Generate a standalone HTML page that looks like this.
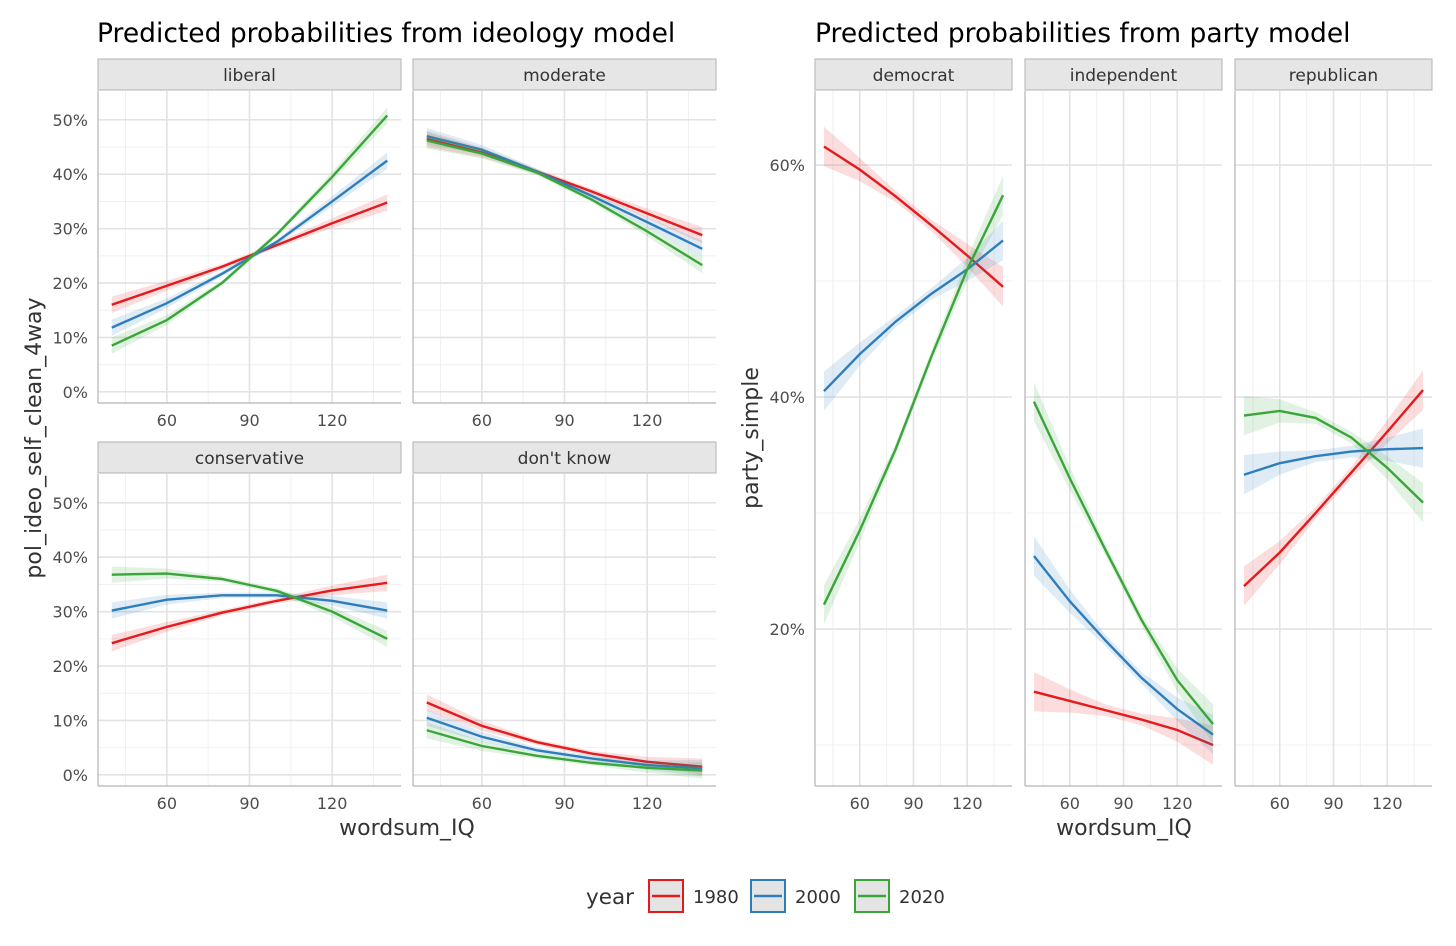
<!DOCTYPE html>
<html><head><meta charset="utf-8"><style>
html,body{margin:0;padding:0;background:#fff;}
svg{display:block;font-family:"DejaVu Sans","Liberation Sans",sans-serif;}
</style></head><body>
<svg id="chart" width="1456" height="946" xmlns="http://www.w3.org/2000/svg"></svg>
<script>
// ---------- data ----------
const xVals = [40,60,80,100,120,140];
const years = ["1980","2000","2020"];
const xTickLabels = [60,90,120];
const leftYTicks = [0,10,20,30,40,50];
const rightYTicks = [20,40,60];
// ideology model (%)
const liberal1980 = [16,19.5,23,27,31,34.8];
const liberal2000 = [11.8,16.3,21.7,27.6,35,42.5];
const liberal2020 = [8.5,13.2,20,29,39.5,50.8];
const moderate1980 = [46.5,44,40.5,36.8,32.8,28.8];
const moderate2000 = [47,44.5,40.5,36,31.2,26.3];
const moderate2020 = [46.2,43.8,40.3,35.3,29.5,23.3];
const conservative1980 = [24.2,27.2,29.8,32,33.9,35.3];
const conservative2000 = [30.2,32.2,33,33,32,30.2];
const conservative2020 = [36.8,37,36,33.8,30,25];
const dontknow1980 = [13.3,9,6,3.9,2.4,1.5];
const dontknow2000 = [10.5,7,4.5,3,1.8,1.2];
const dontknow2020 = [8.2,5.3,3.5,2.2,1.3,0.8];
// party model (%)
const democrat1980 = [61.6,59.6,57.3,54.8,52.2,49.5];
const democrat2000 = [40.5,43.7,46.5,48.9,51,53.5];
const democrat2020 = [22.1,28.5,35.5,43.5,51,57.4];
const independent1980 = [14.6,13.8,13,12.2,11.3,10];
const independent2000 = [26.3,22.4,19,15.8,13.1,10.9];
const independent2020 = [39.6,33,26.8,20.8,15.6,11.8];
const republican1980 = [23.7,26.6,30,33.5,37,40.6];
const republican2000 = [33.3,34.3,34.9,35.3,35.5,35.6];
const republican2020 = [38.4,38.8,38.2,36.5,33.9,30.9];
// ribbon half-widths (%)
const ribbonIdeo = [1.5,0.9,0.5,0.5,0.9,1.5];
const ribbonParty = [1.7,1.0,0.5,0.5,1.0,1.7];

const colors = ["#e41a1c","#2f7ebc","#3aa63a"];
const svg = document.getElementById('chart');
const NS = "http://www.w3.org/2000/svg";
function mk(tag, attrs, parent){
  const e = document.createElementNS(NS, tag);
  for (const k in attrs) e.setAttribute(k, attrs[k]);
  (parent||svg).appendChild(e); return e;
}
function txt(s, attrs, parent){ const t = mk('text', attrs, parent); t.textContent = s; return t; }

function panel(o){
  const g = mk('g', {});
  
  
  const sx = v => o.x0 + (v - 35) / 110 * (o.x1 - o.x0);
  const sy = v => o.y1 - (v - o.ymin) / (o.ymax - o.ymin) * (o.y1 - o.y0);
  [45,75,105,135].forEach(v => mk('line',{x1:sx(v),x2:sx(v),y1:o.y0,y2:o.y1,stroke:'#f0f0f0','stroke-width':1},g));
  o.yMinor.forEach(v => mk('line',{x1:o.x0,x2:o.x1,y1:sy(v),y2:sy(v),stroke:'#f0f0f0','stroke-width':1},g));
  xTickLabels.forEach(v => mk('line',{x1:sx(v),x2:sx(v),y1:o.y0,y2:o.y1,stroke:'#e3e3e3','stroke-width':1.6},g));
  o.yTicks.forEach(v => mk('line',{x1:o.x0,x2:o.x1,y1:sy(v),y2:sy(v),stroke:'#e3e3e3','stroke-width':1.6},g));
  mk('line',{x1:o.x0,x2:o.x0,y1:o.y0,y2:o.y1,stroke:'#b3b3b3','stroke-width':1.2},g);
  mk('line',{x1:o.x0,x2:o.x1,y1:o.y1,y2:o.y1,stroke:'#b3b3b3','stroke-width':1.2},g);
  const st = mk('rect',{x:o.x0,y:o.y0-32,width:o.x1-o.x0,height:31,fill:'#e6e6e6',stroke:'#b3b3b3','stroke-width':1},g);
  
  
  txt(o.label, {x:(o.x0+o.x1)/2,y:o.y0-10,'text-anchor':'middle','font-size':17,fill:'#333'},g);
  o.series.forEach((s,i) => {
    const up = xVals.map((x,j)=>sx(x)+','+sy(s[j]+o.rib[j])).join(' ');
    const dn = xVals.map((x,j)=>sx(x)+','+sy(s[j]-o.rib[j])).reverse().join(' ');
    const r = mk('polygon',{points:up+' '+dn,fill:colors[i],'fill-opacity':0.15,stroke:'none'},g);
    
    
    const l = mk('polyline',{points:xVals.map((x,j)=>sx(x)+','+sy(s[j])).join(' '),fill:'none',stroke:colors[i],'stroke-width':2.4},g);
    
    
  });
  if (o.showX) xTickLabels.forEach(v => txt(v,{x:sx(v),y:o.y1+23,'text-anchor':'middle','font-size':16,fill:'#4d4d4d'},g));
  if (o.showY) o.yTicks.forEach(v => txt(v+'%',{x:o.x0-10,y:sy(v)+6,'text-anchor':'end','font-size':16,fill:'#4d4d4d'},g));
}

const L = {ymin:-2.05, ymax:55.3, yTicks:leftYTicks, yMinor:[5,15,25,35,45], rib:ribbonIdeo, showX:true};
panel(Object.assign({},L,{name:'liberal',label:'liberal',x0:98,x1:401,y0:91,y1:403,series:[liberal1980,liberal2000,liberal2020],showY:true}));
panel(Object.assign({},L,{name:'moderate',label:'moderate',x0:413,x1:716,y0:91,y1:403,series:[moderate1980,moderate2000,moderate2020],showY:false}));
panel(Object.assign({},L,{name:'conservative',label:'conservative',x0:98,x1:401,y0:474,y1:786,series:[conservative1980,conservative2000,conservative2020],showY:true}));
panel(Object.assign({},L,{name:'dontknow',label:"don't know",x0:413,x1:716,y0:474,y1:786,series:[dontknow1980,dontknow2000,dontknow2020],showY:false}));

const R = {ymin:6.47, ymax:66.38, yTicks:rightYTicks, yMinor:[10,30,50], rib:ribbonParty, showX:true, y0:91, y1:786};
panel(Object.assign({},R,{name:'democrat',label:'democrat',x0:815,x1:1012,series:[democrat1980,democrat2000,democrat2020],showY:true}));
panel(Object.assign({},R,{name:'independent',label:'independent',x0:1025,x1:1222,series:[independent1980,independent2000,independent2020],showY:false}));
panel(Object.assign({},R,{name:'republican',label:'republican',x0:1235,x1:1432,series:[republican1980,republican2000,republican2020],showY:false}));

let t;
t = txt('Predicted probabilities from ideology model',{x:97,y:42,'font-size':26.5,fill:'#000'});
 
t = txt('Predicted probabilities from party model',{x:815,y:42,'font-size':26.5,fill:'#000'});
 
t = txt('wordsum_IQ',{x:407,y:835,'text-anchor':'middle','font-size':22,fill:'#333'});
 
t = txt('wordsum_IQ',{x:1124,y:835,'text-anchor':'middle','font-size':22,fill:'#333'});
 
t = txt('pol_ideo_self_clean_4way',{x:0,y:0,'text-anchor':'middle','font-size':22,fill:'#333',transform:'translate(41,438) rotate(-90)'});
 
t = txt('party_simple',{x:0,y:0,'text-anchor':'middle','font-size':22,fill:'#333',transform:'translate(758,438) rotate(-90)'});
 

const lg = mk('g',{});
 
txt('year',{x:586,y:904,'font-size':21.5,fill:'#333'},lg);
const keyX = [649,751,855];
years.forEach((y,i)=>{
  const k = mk('g',{},lg);
  
  
  mk('rect',{x:keyX[i],y:880,width:34,height:32,fill:'#e4e4e4',stroke:colors[i],'stroke-width':2},k);
  mk('line',{x1:keyX[i]+3,x2:keyX[i]+31,y1:896,y2:896,stroke:colors[i],'stroke-width':2.4},k);
  txt(y,{x:keyX[i]+44,y:903,'font-size':18,fill:'#333'},k);
});
</script>
</body></html>
